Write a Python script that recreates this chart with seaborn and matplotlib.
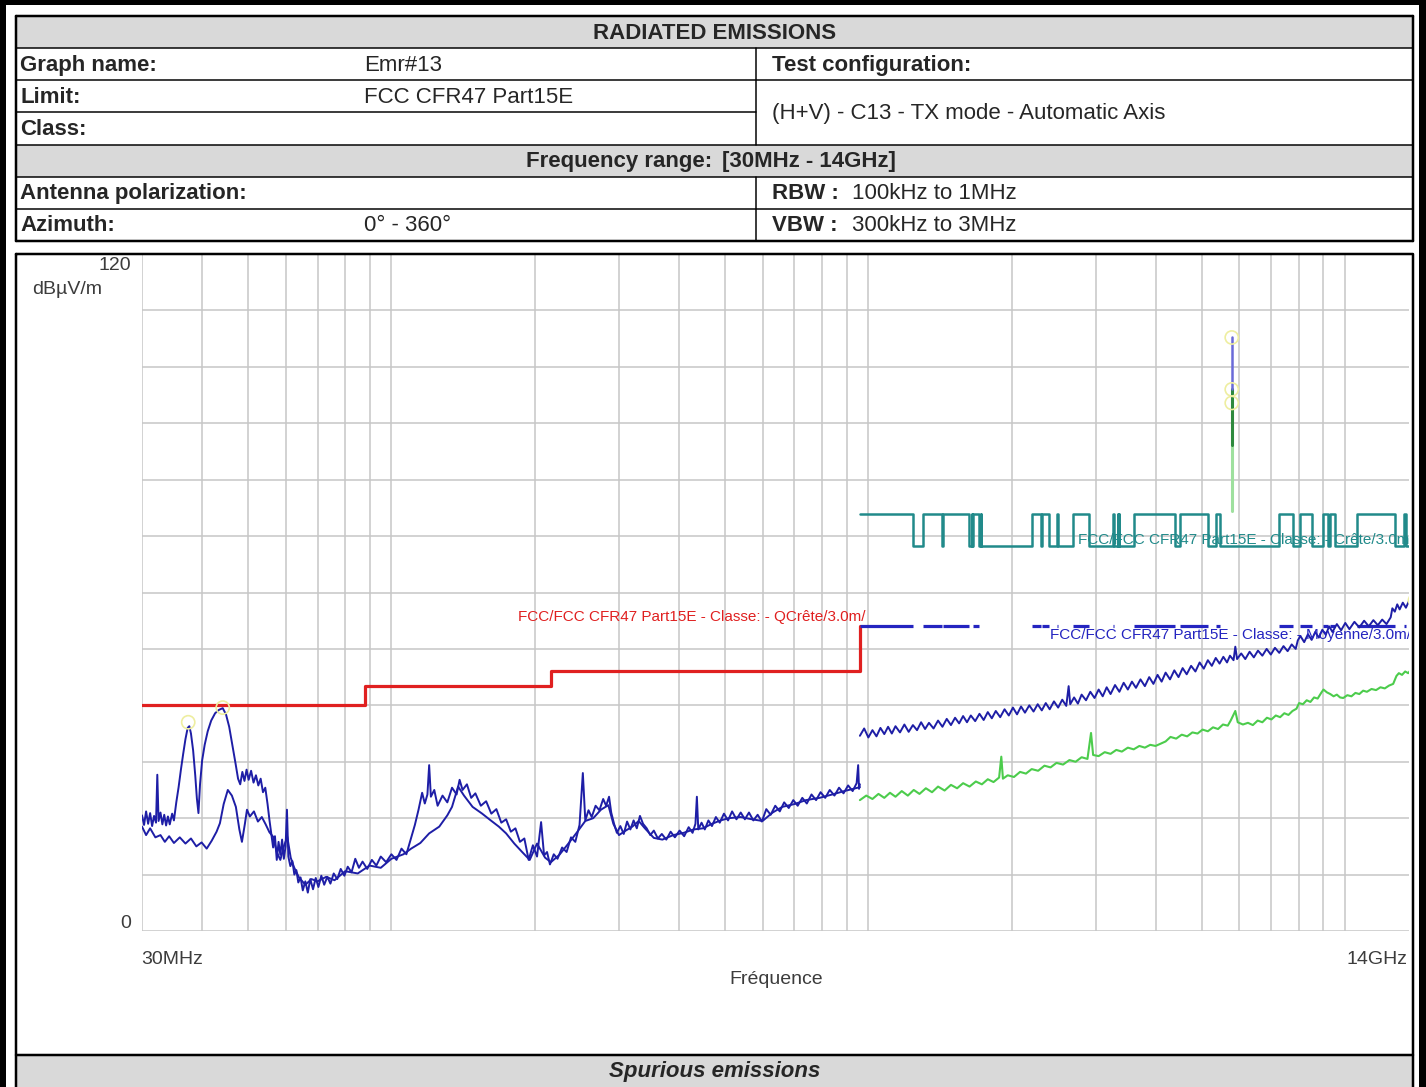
import numpy as np
import matplotlib
matplotlib.use("Agg")
import matplotlib.pyplot as plt
from matplotlib.patches import Rectangle
from matplotlib.ticker import LogLocator, MultipleLocator, NullLocator
import seaborn as sns

W, H = 1426, 1087

# header table content
title = "RADIATED EMISSIONS"
graph_name = "Emr#13"
limit_name = "FCC CFR47 Part15E"
test_config = "(H+V) - C13 - TX mode - Automatic Axis"
freq_range = "[30MHz - 14GHz]"
azimuth = "0° - 360°"
rbw = "100kHz to 1MHz"
vbw = "300kHz to 3MHz"
footer = "Spurious emissions"

# quasi-peak limit below 1 GHz (MHz, dBuV/m)
qp_edges = [30, 88, 216, 960]
qp_levels = [40, 43.5, 46]
qp_top = 54

# restricted bands above 960 MHz (MHz) -> peak 74 / avg 54, else peak 68.2
restricted_bands = [(960, 1240), (1300, 1427), (1435, 1626.5), (1645.5, 1646.5),
                    (1660, 1710), (1718.8, 1722.2), (2200, 2300), (2310, 2390),
                    (2483.5, 2500), (2690, 2900), (3260, 3267), (3332, 3339),
                    (3345.8, 3358), (3600, 4400), (4500, 5150), (5350, 5460),
                    (7250, 7750), (8025, 8500), (9000, 9200), (9300, 9500),
                    (10600, 12700), (13250, 13400)]
peak_hi, peak_lo, avg_lim = 74, 68.2, 54

# low band, trace A (30 MHz - 960 MHz)
lo_freq_a = [30, 30.3, 30.6, 30.9, 31.2, 31.5, 31.8, 32.1, 32.3, 32.5, 32.8, 33.1, 33.4, 33.7,
             34.0, 34.3, 34.7, 35.0, 35.4, 35.8, 36.2, 36.6, 37.0, 37.4, 37.7, 38.0, 38.4,
             38.8, 39.1, 39.4, 39.7, 40.1, 40.6, 41.2, 41.9, 42.7, 43.5, 44.3, 45.0, 45.7,
             46.4, 47.1, 47.7, 48.2, 48.7, 49.2, 49.7, 50.2, 50.8, 51.4, 52.0, 52.6, 53.2,
             53.8, 54.4, 55.0, 55.5, 56.0, 56.5, 57.0, 57.5, 58.0, 58.5, 59.0, 59.5, 60.0,
             60.4, 60.8, 61.4, 62.0, 62.6, 63.2, 63.8, 64.5, 65.2, 66.0, 66.8, 67.6, 68.5,
             69.4, 70.3, 71.3, 72.3, 73.4, 74.5, 75.7, 77.0, 78.3, 79.7, 81.0, 82.5, 84.0,
             85.5, 87.0, 89.0, 91.0, 93.0, 95.0, 97.5, 100, 102.5, 105, 107.5, 110, 112,
             114, 116, 117.5, 119, 120, 121, 123, 125, 128, 131, 134, 137, 139, 141, 144,
             147, 150, 154, 158, 162, 166, 170, 174, 178, 182, 186, 190, 194, 198, 202,
             206, 209, 212, 215, 219, 223, 228, 233, 238, 243, 248, 252, 255, 259, 263,
             268, 273, 278, 282, 286, 289, 293, 297, 302, 307, 312, 317, 322, 327, 332,
             337, 343, 349, 355, 362, 369, 377, 385, 393, 402, 411, 420, 428, 434, 437,
             440, 447, 454, 462, 470, 479, 488, 498, 508, 518, 529, 540, 551, 562, 574,
             586, 598, 611, 624, 638, 652, 666, 681, 696, 711, 727, 743, 760, 777, 794,
             812, 830, 849, 868, 887, 907, 927, 945, 952, 956, 960]
lo_level_a = [20.5, 18.8, 21.2, 19.0, 20.9, 18.6, 20.4, 19.2, 27.7, 19.5, 21.0, 18.9, 20.6,
              18.7, 20.3, 18.9, 20.8, 19.6, 22.8, 25.5, 28.6, 31.4, 34.0, 36.0, 36.3, 35.0,
              32.0, 27.5, 23.5, 20.9, 26.0, 30.2, 33.0, 35.4, 37.3, 38.6, 39.2, 39.5, 38.4,
              36.2, 33.0, 29.8, 27.0, 26.0, 28.2, 26.6, 28.6, 26.8, 28.4, 26.3, 27.6, 25.8,
              27.0, 24.6, 25.4, 22.5, 19.7, 17.2, 14.8, 16.8, 12.6, 15.8, 13.5, 16.2, 12.8,
              15.0, 21.5, 13.2, 11.5, 12.4, 10.0, 10.8, 8.6, 9.5, 7.2, 8.8, 6.8, 9.2, 7.4,
              9.4, 7.8, 9.8, 8.2, 9.6, 8.4, 10.2, 9.2, 11.0, 9.8, 11.4, 10.4, 12.8, 11.2,
              12.3, 11.0, 12.6, 11.6, 13.2, 12.2, 13.6, 12.6, 14.6, 13.6, 16.5, 18.8, 21.5,
              24.5, 22.6, 24.2, 29.4, 23.8, 25.0, 22.2, 24.0, 22.8, 25.4, 24.2, 26.8, 25.0,
              26.0, 23.6, 24.4, 22.2, 23.0, 20.8, 21.6, 19.2, 19.8, 17.6, 18.2, 15.8, 16.4,
              12.6, 15.2, 13.2, 19.3, 13.4, 14.0, 11.8, 13.6, 12.8, 14.8, 14.0, 16.6, 15.8,
              18.8, 28.0, 19.6, 21.4, 20.2, 22.2, 21.4, 23.4, 22.2, 23.8, 21.0, 19.0, 17.4,
              18.6, 17.2, 19.4, 18.0, 19.6, 18.2, 20.4, 19.0, 18.2, 17.0, 17.8, 16.4, 17.2,
              16.2, 17.6, 16.6, 17.8, 16.8, 18.4, 17.4, 19.0, 23.8, 18.0, 19.2, 18.0, 19.6,
              18.6, 20.2, 19.2, 20.8, 19.6, 21.2, 19.8, 21.0, 19.8, 21.0, 19.6, 20.6, 19.4,
              21.6, 20.6, 22.2, 21.2, 22.8, 21.8, 23.2, 22.2, 23.6, 22.6, 24.2, 23.2, 24.6,
              23.6, 25.0, 24.0, 25.4, 24.4, 25.8, 24.8, 26.2, 29.4, 25.2, 26.0]

# low band, trace B
lo_freq_b = [30, 30.6, 31.2, 32, 32.8, 33.5, 34.2, 35, 36, 37, 38, 39, 40, 41, 42, 43,
             43.7, 44.5, 45.4, 46.3, 47.2, 48, 48.6, 49.3, 49.8, 50.5, 51.5, 52.5, 53.5,
             54.5, 55.5, 56.5, 57.5, 58.5, 59.5, 60.5, 61.5, 62.5, 64, 66, 68, 70, 73, 76,
             80, 85, 90, 95, 100, 106, 110, 115, 120, 126, 131, 134, 138, 142, 148, 155,
             161, 168, 174, 181, 188, 195, 202, 210, 216, 225, 235, 245, 255, 265, 275,
             285, 292, 300, 310, 320, 330, 340, 355, 370, 390, 410, 430, 450, 470, 490,
             510, 540, 570, 600, 630, 660, 700, 740, 790, 840, 890, 930, 960]
lo_level_b = [18.5, 17.0, 18.2, 16.6, 17.0, 15.8, 16.8, 15.6, 16.6, 15.5, 16.4, 15.0, 15.7,
              14.6, 16.0, 17.6, 19.1, 22.5, 25.0, 24.0, 22.0, 18.0, 15.8, 19.0, 21.5, 20.3,
              21.2, 19.4, 20.2, 18.9, 17.5, 16.7, 14.0, 12.6, 15.0, 16.7, 13.0, 11.3, 9.5,
              8.2, 9.2, 8.8, 9.6, 9.0, 10.6, 10.2, 11.6, 11.2, 12.8, 13.6, 14.6, 15.6, 17.3,
              18.5, 20.5, 22.0, 25.6, 24.0, 22.0, 20.8, 19.7, 18.5, 17.3, 15.5, 14.0, 12.6,
              15.5, 13.0, 12.2, 13.5, 15.5, 17.5, 19.5, 20.0, 21.5, 22.3, 19.0, 17.0, 17.8,
              18.5, 19.5, 18.2, 16.5, 16.2, 17.0, 17.4, 18.0, 18.2, 19.0, 19.6, 20.0, 20.2,
              19.8, 19.5, 21.0, 22.0, 22.5, 23.2, 23.6, 24.2, 24.8, 25.2, 25.5]

# high band peak trace (960 MHz - 14 GHz)
hi_freq_pk = [960, 980, 1000, 1020, 1040, 1060, 1080, 1100, 1120, 1140, 1165, 1190, 1215,
              1240, 1265, 1290, 1315, 1340, 1370, 1400, 1430, 1460, 1490, 1520, 1550, 1580,
              1610, 1640, 1675, 1710, 1745, 1780, 1815, 1850, 1890, 1930, 1970, 2010, 2050,
              2090, 2130, 2175, 2220, 2265, 2310, 2355, 2400, 2450, 2500, 2550, 2600, 2630,
              2650, 2700, 2750, 2800, 2860, 2920, 2980, 3040, 3100, 3160, 3220, 3290, 3360,
              3430, 3500, 3570, 3640, 3720, 3800, 3880, 3960, 4040, 4120, 4200, 4290, 4380,
              4470, 4560, 4650, 4750, 4850, 4950, 5050, 5150, 5250, 5350, 5450, 5550, 5650,
              5730, 5830, 5880, 5930, 6050, 6170, 6300, 6430, 6560, 6700, 6840, 6980, 7120,
              7270, 7420, 7570, 7720, 7870, 7950, 8050, 8200, 8350, 8500, 8650, 8800, 8950,
              9100, 9250, 9400, 9600, 9800, 10000, 10200, 10450, 10700, 10950, 11200,
              11450, 11700, 11950, 12200, 12450, 12550, 12700, 12850, 13000, 13200, 13400,
              13600, 13800, 14000]
hi_level_pk = [34.6, 35.9, 34.3, 35.6, 34.5, 36.0, 34.9, 36.2, 35.0, 36.3, 35.2, 36.6, 35.3,
               36.5, 35.6, 37.0, 35.8, 36.9, 35.9, 37.3, 36.2, 37.6, 36.5, 37.8, 36.8, 38.1,
               37.0, 38.2, 37.2, 38.5, 37.4, 38.8, 37.7, 39.0, 37.9, 39.3, 38.2, 39.6, 38.4,
               39.8, 38.7, 40.0, 38.9, 40.2, 39.1, 40.4, 39.3, 40.7, 39.6, 41.0, 39.9, 43.4,
               40.2, 41.4, 40.3, 41.9, 40.9, 42.4, 41.3, 42.8, 41.6, 43.2, 42.0, 43.6, 42.4,
               44.0, 42.8, 44.2, 43.1, 44.6, 43.4, 45.0, 43.8, 45.4, 44.2, 45.8, 44.6, 46.2,
               45.0, 46.6, 45.5, 47.0, 46.0, 47.6, 46.5, 48.0, 47.0, 48.4, 47.4, 48.6, 47.6,
               48.8, 48.0, 50.4, 48.2, 49.2, 48.2, 49.5, 48.5, 49.7, 48.8, 50.0, 49.0, 50.2,
               49.3, 50.5, 49.6, 50.8, 50.0, 51.5, 52.3, 51.2, 52.6, 51.6, 53.0, 52.0, 53.4,
               52.5, 54.0, 53.0, 54.4, 53.3, 54.6, 53.5, 54.8, 53.8, 55.0, 54.0, 55.1, 54.2,
               55.2, 54.4, 55.6, 57.2, 56.6, 57.9, 57.0, 58.2, 57.3, 58.5, 57.7, 58.6]

# high band average trace
hi_freq_av = [960, 990, 1020, 1050, 1080, 1110, 1140, 1175, 1210, 1245, 1280, 1320, 1360,
              1400, 1445, 1490, 1535, 1580, 1630, 1680, 1730, 1780, 1830, 1880, 1900, 1915,
              1960, 2020, 2080, 2140, 2200, 2270, 2340, 2410, 2480, 2560, 2640, 2720, 2800,
              2880, 2930, 2960, 3040, 3130, 3220, 3310, 3400, 3500, 3600, 3700, 3800, 3900,
              4000, 4100, 4200, 4300, 4420, 4540, 4660, 4780, 4900, 5020, 5150, 5280, 5410,
              5540, 5670, 5750, 5880, 5950, 6100, 6250, 6400, 6550, 6700, 6850, 7000, 7150,
              7300, 7450, 7600, 7750, 7900, 8000, 8150, 8300, 8450, 8600, 8750, 8900, 9000,
              9150, 9300, 9450, 9600, 9750, 9900, 10100, 10300, 10500, 10700, 10900, 11100,
              11350, 11600, 11850, 12100, 12350, 12600, 12800, 12950, 13150, 13350, 13550,
              13750, 14000]
hi_level_av = [23.2, 24.0, 23.4, 24.3, 23.6, 24.5, 23.8, 24.8, 24.0, 25.0, 24.3, 25.3, 24.6,
               25.6, 24.9, 25.9, 25.3, 26.2, 25.6, 26.5, 26.0, 26.9, 26.4, 27.2, 30.9, 27.0,
               27.6, 27.3, 28.2, 27.9, 28.7, 28.4, 29.3, 29.0, 29.8, 29.5, 30.3, 30.0, 30.8,
               30.5, 35.1, 31.2, 31.0, 31.7, 31.4, 32.1, 31.8, 32.5, 32.2, 32.8, 32.5, 33.0,
               32.8, 33.2, 33.6, 34.4, 34.1, 34.8, 34.5, 35.2, 35.0, 35.7, 35.4, 36.1, 35.8,
               36.6, 36.4, 37.3, 39.0, 37.0, 36.6, 36.9, 36.5, 37.3, 37.0, 37.8, 37.5, 38.2,
               37.9, 38.6, 38.3, 39.0, 39.4, 40.4, 40.2, 40.9, 40.6, 41.4, 41.2, 42.2, 42.8,
               42.3, 42.0, 41.6, 41.9, 41.4, 41.3, 41.8, 41.6, 42.2, 42.0, 42.6, 42.4, 42.9,
               42.7, 43.2, 43.0, 43.5, 43.8, 45.2, 45.7, 45.4, 46.0, 45.7, 46.4, 46.8]

# carrier spike at 5.78 GHz
spike_freq = 5780
spike_blue = [96.0, 105.2]
spike_dkgreen = [86.2, 96.0]
spike_ltgreen = [74.5, 86.2]

# peak markers
marker_freq = [37.5, 44.3, 5780, 5780, 5780, 14000]
marker_level = [37.0, 39.6, 105.2, 96.0, 93.6, 58.6]

BLUE = "#1e1ea6"
GREEN = "#4ccc4c"
RED = "#e02020"
TEAL = "#218a8a"
AVG_BLUE = "#2424c0"
GRID = "#c6c6c6"
GRAY_TXT = "#3c3c3c"

sns.set_style("white")
plt.rcParams['font.family'] = ['Liberation Sans', 'DejaVu Sans']

fig = plt.figure(figsize=(W / 100, H / 100), dpi=100)

# ---------------- chart ----------------
ax = fig.add_axes([142 / W, 1 - 931 / H, (1415 - 142) / W, (931 - 254) / H])
ax.set_xscale('log')

# quasi-peak limit (steps)
red_x, red_y = [], []
for i, lev in enumerate(qp_levels):
    red_x += [qp_edges[i], qp_edges[i + 1]]
    red_y += [lev, lev]
red_x.append(qp_edges[-1])
red_y.append(qp_top)
sns.lineplot(x=red_x, y=red_y, ax=ax, color=RED, lw=2.3, estimator=None, sort=False)

# peak limit above 960 MHz
tx, ty = [], []
prev = restricted_bands[0][0]
for lo, hi in restricted_bands:
    if lo > prev:
        tx += [prev, lo]
        ty += [peak_lo, peak_lo]
    tx += [lo, hi]
    ty += [peak_hi, peak_hi]
    prev = hi
tx += [prev, 14000]
ty += [peak_lo, peak_lo]
sns.lineplot(x=tx, y=ty, ax=ax, color=TEAL, lw=1.8, estimator=None, sort=False)

# average limit, only inside restricted bands
ax.hlines([avg_lim] * len(restricted_bands), [b[0] for b in restricted_bands],
          [b[1] for b in restricted_bands], color=AVG_BLUE, lw=2.3)

# measured traces
sns.lineplot(x=lo_freq_b, y=lo_level_b, ax=ax, color=BLUE, lw=1.4, estimator=None, sort=False)
sns.lineplot(x=lo_freq_a, y=lo_level_a, ax=ax, color=BLUE, lw=1.4, estimator=None, sort=False)
sns.lineplot(x=hi_freq_av, y=hi_level_av, ax=ax, color=GREEN, lw=1.5, estimator=None, sort=False)
sns.lineplot(x=hi_freq_pk, y=hi_level_pk, ax=ax, color=BLUE, lw=1.4, estimator=None, sort=False)

sns.lineplot(x=[spike_freq] * 2, y=spike_ltgreen, ax=ax, color="#9ee09e", lw=2.2, estimator=None, sort=False)
sns.lineplot(x=[spike_freq] * 2, y=spike_dkgreen, ax=ax, color="#2e8a3e", lw=2.2, estimator=None, sort=False)
sns.lineplot(x=[spike_freq] * 2, y=spike_blue, ax=ax, color="#6a6ad8", lw=1.8, estimator=None, sort=False)

ax.scatter(marker_freq, marker_level, s=90, facecolors='none', edgecolors="#eeeea0",
           linewidths=1.2, zorder=5)

# limit labels
ax.text(985, 55.7, "FCC/FCC CFR47 Part15E - Classe: - QCrête/3.0m/", color=RED,
        fontsize=11, ha='right', va='center')
ax.text(2750, 69.3, "FCC/FCC CFR47 Part15E - Classe: - Crête/3.0m/", color=TEAL,
        fontsize=11, ha='left', va='center', clip_on=True)
ax.text(13700, 52.5, "FCC/FCC CFR47 Part15E - Classe: - Moyenne/3.0m/", color=AVG_BLUE,
        fontsize=11, ha='right', va='center')

ax.set_xlim(30, 14000)
ax.set_ylim(0, 120)
ax.xaxis.set_major_locator(LogLocator(base=10, subs=np.arange(1, 10), numticks=50))
ax.xaxis.set_minor_locator(NullLocator())
ax.yaxis.set_major_locator(MultipleLocator(10))
ax.grid(True, which='major', color=GRID, lw=1.1)
ax.tick_params(length=0, labelbottom=False, labelleft=False)
ax.set_xlabel("")
ax.set_ylabel("")
for s in ax.spines.values():
    s.set_visible(False)

# ---------------- overlay: table, frame, labels ----------------
ov = fig.add_axes([0, 0, 1, 1], facecolor='none')
ov.set_xlim(0, W)
ov.set_ylim(H, 0)
ov.axis('off')

px = 0.72  # points per pixel
L, R = 16, 1413
mid = 756
rows = np.linspace(16, 241, 8)
rc = (rows[:-1] + rows[1:]) / 2 + 1

for r in (0, 4):
    ov.add_patch(Rectangle((L, rows[r]), R - L, rows[r + 1] - rows[r], color="#d9d9d9", lw=0))
for i, y in enumerate(rows):
    if i == 3:
        ov.plot([L, mid], [y, y], color='black', lw=1.5 * px)
    else:
        ov.plot([L, R], [y, y], color='black', lw=(2.5 if i in (0, 7) else 1.5) * px)
ov.plot([L, L], [rows[0], rows[-1]], color='black', lw=2.5 * px)
ov.plot([R, R], [rows[0], rows[-1]], color='black', lw=2.5 * px)
ov.plot([mid, mid], [rows[1], rows[4]], color='black', lw=1.5 * px)
ov.plot([mid, mid], [rows[5], rows[7]], color='black', lw=1.5 * px)

fs = 16
bold = dict(fontsize=fs, fontweight='bold', va='center')
reg = dict(fontsize=fs, va='center')
ov.text((L + R) / 2, rc[0], title, ha='center', **bold)
ov.text(20, rc[1], "Graph name:", **bold)
ov.text(364, rc[1], graph_name, **reg)
ov.text(772, rc[1], "Test configuration:", **bold)
ov.text(20, rc[2], "Limit:", **bold)
ov.text(364, rc[2], limit_name, **reg)
ov.text(772, rows[3] + 1, test_config, **reg)
ov.text(20, rc[3], "Class:", **bold)
ov.text(712, rc[4], "Frequency range:", ha='right', **bold)
ov.text(722, rc[4], freq_range, ha='left', **bold)
ov.text(20, rc[5], "Antenna polarization:", **bold)
ov.text(772, rc[5], "RBW :", **bold)
ov.text(852, rc[5], rbw, **reg)
ov.text(20, rc[6], "Azimuth:", **bold)
ov.text(364, rc[6], azimuth, **reg)
ov.text(772, rc[6], "VBW :", **bold)
ov.text(852, rc[6], vbw, **reg)

# chart frame
top, bot = 254, 1055
ov.add_patch(Rectangle((1409, top), 10, bot - top, color='white', lw=0))
ov.plot([L, R, R, L, L], [top, top, bot, bot, top], color='black', lw=2.5 * px)
ov.text(131, 266, "120", ha='right', va='center', fontsize=14, color=GRAY_TXT)
ov.text(32, 289, "dBµV/m", ha='left', va='center', fontsize=14, color=GRAY_TXT)
ov.text(131, 923, "0", ha='right', va='center', fontsize=14, color=GRAY_TXT)
ov.text(141, 960, "30MHz", ha='left', va='center', fontsize=14, color=GRAY_TXT)
ov.text(1408, 960, "14GHz", ha='right', va='center', fontsize=14, color=GRAY_TXT)
ov.text(776, 980, "Fréquence", ha='center', va='center', fontsize=14, color=GRAY_TXT)

# footer row
ov.add_patch(Rectangle((L, bot), R - L, H - bot, color="#d9d9d9", lw=0))
ov.plot([L, L], [bot, H], color='black', lw=2.5 * px)
ov.plot([R, R], [bot, H], color='black', lw=2.5 * px)
ov.text((L + R) / 2, 1072, footer, ha='center', va='center', fontsize=fs,
        fontweight='bold', fontstyle='italic')

# thick outer border
ov.add_patch(Rectangle((0, 0), 6, H, color='black', lw=0))
ov.add_patch(Rectangle((0, 0), W, 5, color='black', lw=0))
ov.add_patch(Rectangle((1419, 0), W - 1419, H, color='black', lw=0))

fig.savefig("out.png", dpi=100)
